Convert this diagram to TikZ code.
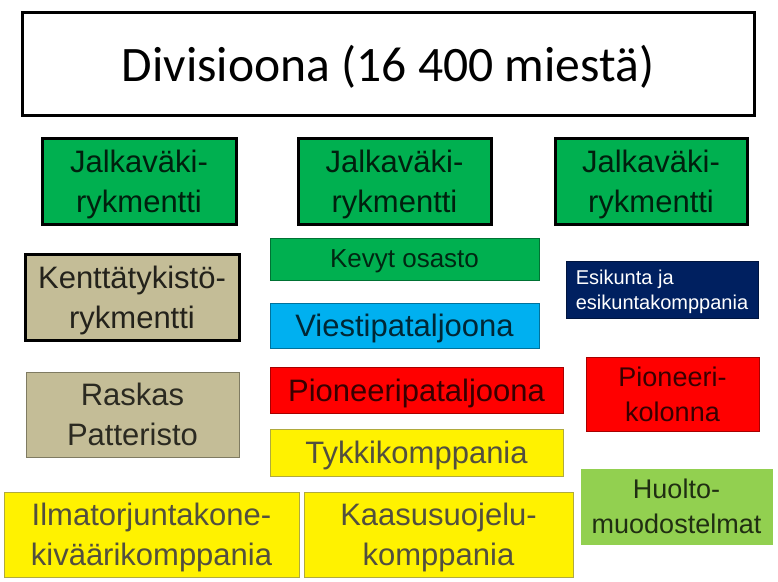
\documentclass[tikz,border=0pt]{standalone}
\usepackage{fontspec}
\setmainfont{Liberation Sans}
\newfontfamily\calibfont{Carlito}
\usepackage{xcolor}
\usetikzlibrary{positioning}

\definecolor{jvgreen}{RGB}{0,176,80}
\definecolor{khaki}{RGB}{196,189,151}
\definecolor{skyblue}{RGB}{0,176,240}
\definecolor{navy}{RGB}{0,32,96}
\definecolor{lightgreen}{RGB}{146,208,80}

\tikzset{
    unit/.style={inner sep=0pt, align=center, text depth=0pt,
        font=\fontsize{31}{40}\selectfont},
    heavy/.style={unit, draw=black, line width=3pt, fill=#1, text=#1!18!black},
    light/.style={unit, draw=#1!65!black, line width=1pt, fill=#1, text=#1!22!black},
}

\begin{document}
\begin{tikzpicture}[x=1pt,y=-1pt]
    \useasboundingbox[fill=white] (0,0) rectangle (778,581);

    % Division
    \node[heavy=white, text=black, minimum width=732, minimum height=103,
        font=\calibfont\fontsize{49.6}{56}\selectfont] (div) at (388,63.5)
        {Divisioona (16 400 miestä)};

    % Regiments
    \node[heavy=jvgreen, minimum width=194, minimum height=86] (jvA) at (139,181) {Jalkaväki-\\rykmentti};
    \node[heavy=jvgreen, minimum width=193, minimum height=86] (jvB) at (394.5,181) {Jalkaväki-\\rykmentti};
    \node[heavy=jvgreen, minimum width=192, minimum height=86] (jvC) at (651,181) {Jalkaväki-\\rykmentti};
    \node[heavy=khaki, minimum width=214, minimum height=86] (kent) at (132,297) {Kenttätykistö-\\rykmentti};

    % Middle column
    \node[light=jvgreen, minimum width=269, minimum height=42,
        font=\fontsize{26}{30}\selectfont] (kevyt) at (404.5,259) {Kevyt osasto};
    \node[light=skyblue, minimum width=269, minimum height=45] (viesti) at (404.5,325.5) {Viestipataljoona};
    \node[light=red, minimum width=293, minimum height=46] (pionP) at (416.5,390) {Pioneeripataljoona};
    \node[light=yellow, minimum width=293, minimum height=47] (tykki) at (416.5,452.5) {Tykkikomppania};

    % Right column
    \node[light=navy, minimum width=192, minimum height=57, text=white, align=left,
        font=\fontsize{20}{25}\selectfont] (esik) at (662,289.5) {Esikunta ja\\esikuntakomppania};
    \node[light=red, minimum width=173, minimum height=74,
        font=\fontsize{27}{35}\selectfont] (pionK) at (672.5,394) {Pioneeri-\\kolonna};
    \node[light=lightgreen, draw=lightgreen, minimum width=191, minimum height=75,
        font=\fontsize{27}{35}\selectfont] (huolto) at (676.5,506.5) {Huolto-\\muodostelmat};

    % Left and bottom
    \node[light=khaki, minimum width=213, minimum height=85] (raskas) at (132.5,414.5) {Raskas\\Patteristo};
    \node[light=yellow, minimum width=295, minimum height=85] (ilma) at (151.5,534.5) {Ilmatorjuntakone-\\kiväärikomppania};
    \node[light=yellow, minimum width=269, minimum height=85] (kaasu) at (438.5,534.5) {Kaasusuojelu-\\komppania};
\end{tikzpicture}
\end{document}
